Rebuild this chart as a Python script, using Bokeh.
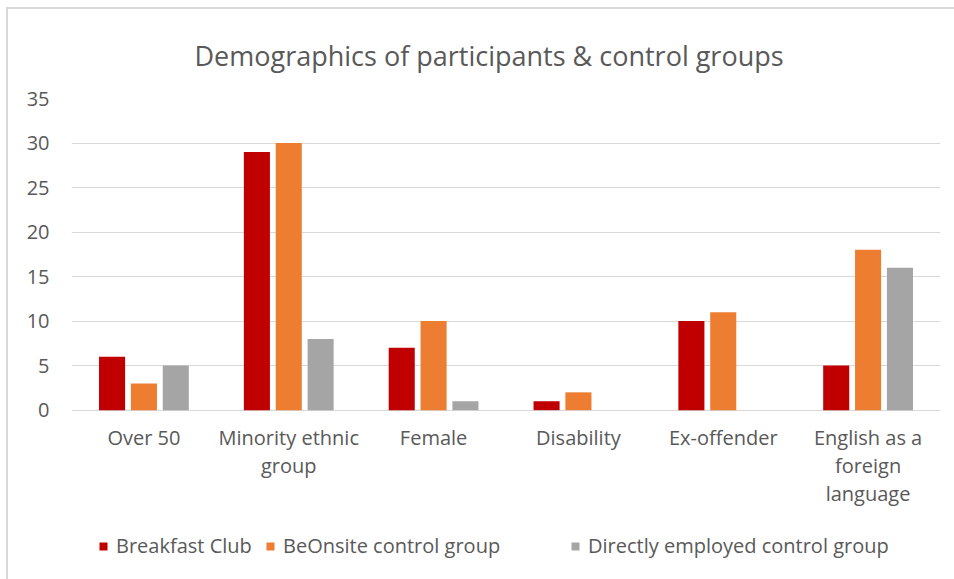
from bokeh.plotting import figure
from bokeh.models import FactorRange, Range1d, Legend, LegendItem, ColumnDataSource
from bokeh.transform import dodge
from bokeh.core.properties import value
from bokeh.embed import file_html
from bokeh.resources import INLINE

categories = ["Over 50", "Minority ethnic group", "Female", "Disability", "Ex-offender",
              "English as a foreign language"]
category_labels = ["Over 50", "Minority ethnic\ngroup", "Female", "Disability", "Ex-offender",
                   "English as a\nforeign\nlanguage"]
breakfast_club = [6, 29, 7, 1, 10, 5]
beonsite = [3, 30, 10, 2, 11, 18]
directly_employed = [5, 8, 1, 0, 0, 16]
series_names = ["Breakfast Club", "BeOnsite control group", "Directly employed control group"]
colors = ["#C00000", "#ED7D31", "#A5A5A5"]
y_ticks = [0, 5, 10, 15, 20, 25, 30, 35]

FONT = "Open Sans"
TEXT_COLOR = "#595959"

# layout (pixels)
FRAME_TOP, ZERO_Y, FIG_BOTTOM = 97, 408, 579
units_per_px = 35 / (ZERO_Y - FRAME_TOP)
y_min = -(FIG_BOTTOM - ZERO_Y) * units_per_px
label_top = -(422 - ZERO_Y) * units_per_px
legend_x = [27, 194, 499]

src = ColumnDataSource(dict(cat=categories, a=breakfast_club, b=beonsite, c=directly_employed,
                            lab=category_labels, ly=[label_top] * len(categories)))

p = figure(x_range=FactorRange(*categories, range_padding=0), y_range=Range1d(y_min, 35),
           width=948, height=572, output_backend="svg", toolbar_location=None,
           min_border_left=63, min_border_right=16, min_border_top=88, min_border_bottom=0)
p.margin = (7, 0, 0, 6)
p.styles = {"border-left": "2px solid #d9d9d9", "border-top": "2px solid #d9d9d9"}
p.outline_line_color = None
p.background_fill_color = "white"
p.border_fill_color = "white"

p.title.text = "Demographics of participants & control groups"
p.title.text_font = FONT
p.title.text_font_size = "27px"
p.title.text_font_style = "normal"
p.title.text_color = TEXT_COLOR
p.title.align = "left"
p.title.offset = 123
p.title.standoff = 50

renderers = []
for key, off, col in zip(["a", "b", "c"], [-0.22, 0.0, 0.22], colors):
    r = p.vbar(x=dodge("cat", off, range=p.x_range), top=key, bottom=0, width=0.18, source=src,
               fill_color=col, line_color=None)
    renderers.append(r)

p.text(x="cat", y="ly", text="lab", source=src, text_font=value(FONT), text_font_size="20px",
       text_color=TEXT_COLOR, text_align="center", text_baseline="top", text_line_height=1.03)

p.xaxis.visible = False
p.xgrid.grid_line_color = None
p.ygrid.grid_line_color = "#d9d9d9"
p.ygrid.grid_line_width = 1
p.yaxis.ticker = y_ticks
p.yaxis.axis_line_color = None
p.yaxis.major_tick_line_color = None
p.yaxis.minor_tick_line_color = None
p.yaxis.major_tick_out = 0
p.yaxis.major_tick_in = 0
p.yaxis.major_label_text_font = FONT
p.yaxis.major_label_text_font_size = "20px"
p.yaxis.major_label_text_color = TEXT_COLOR
p.yaxis.major_label_standoff = 22

for name, r, lx in zip(series_names, renderers, legend_x):
    legend = Legend(items=[LegendItem(label=name, renderers=[r])],
                    orientation="horizontal", location=(lx, 22))
    legend.label_text_font = FONT
    legend.label_text_font_size = "20px"
    legend.label_text_color = TEXT_COLOR
    legend.glyph_width = 10
    legend.glyph_height = 10
    legend.label_standoff = 8
    legend.border_line_color = None
    legend.background_fill_alpha = 0
    legend.padding = 0
    legend.margin = 0
    p.add_layout(legend, "center")

open("out.html", "w").write(file_html(p, INLINE))
